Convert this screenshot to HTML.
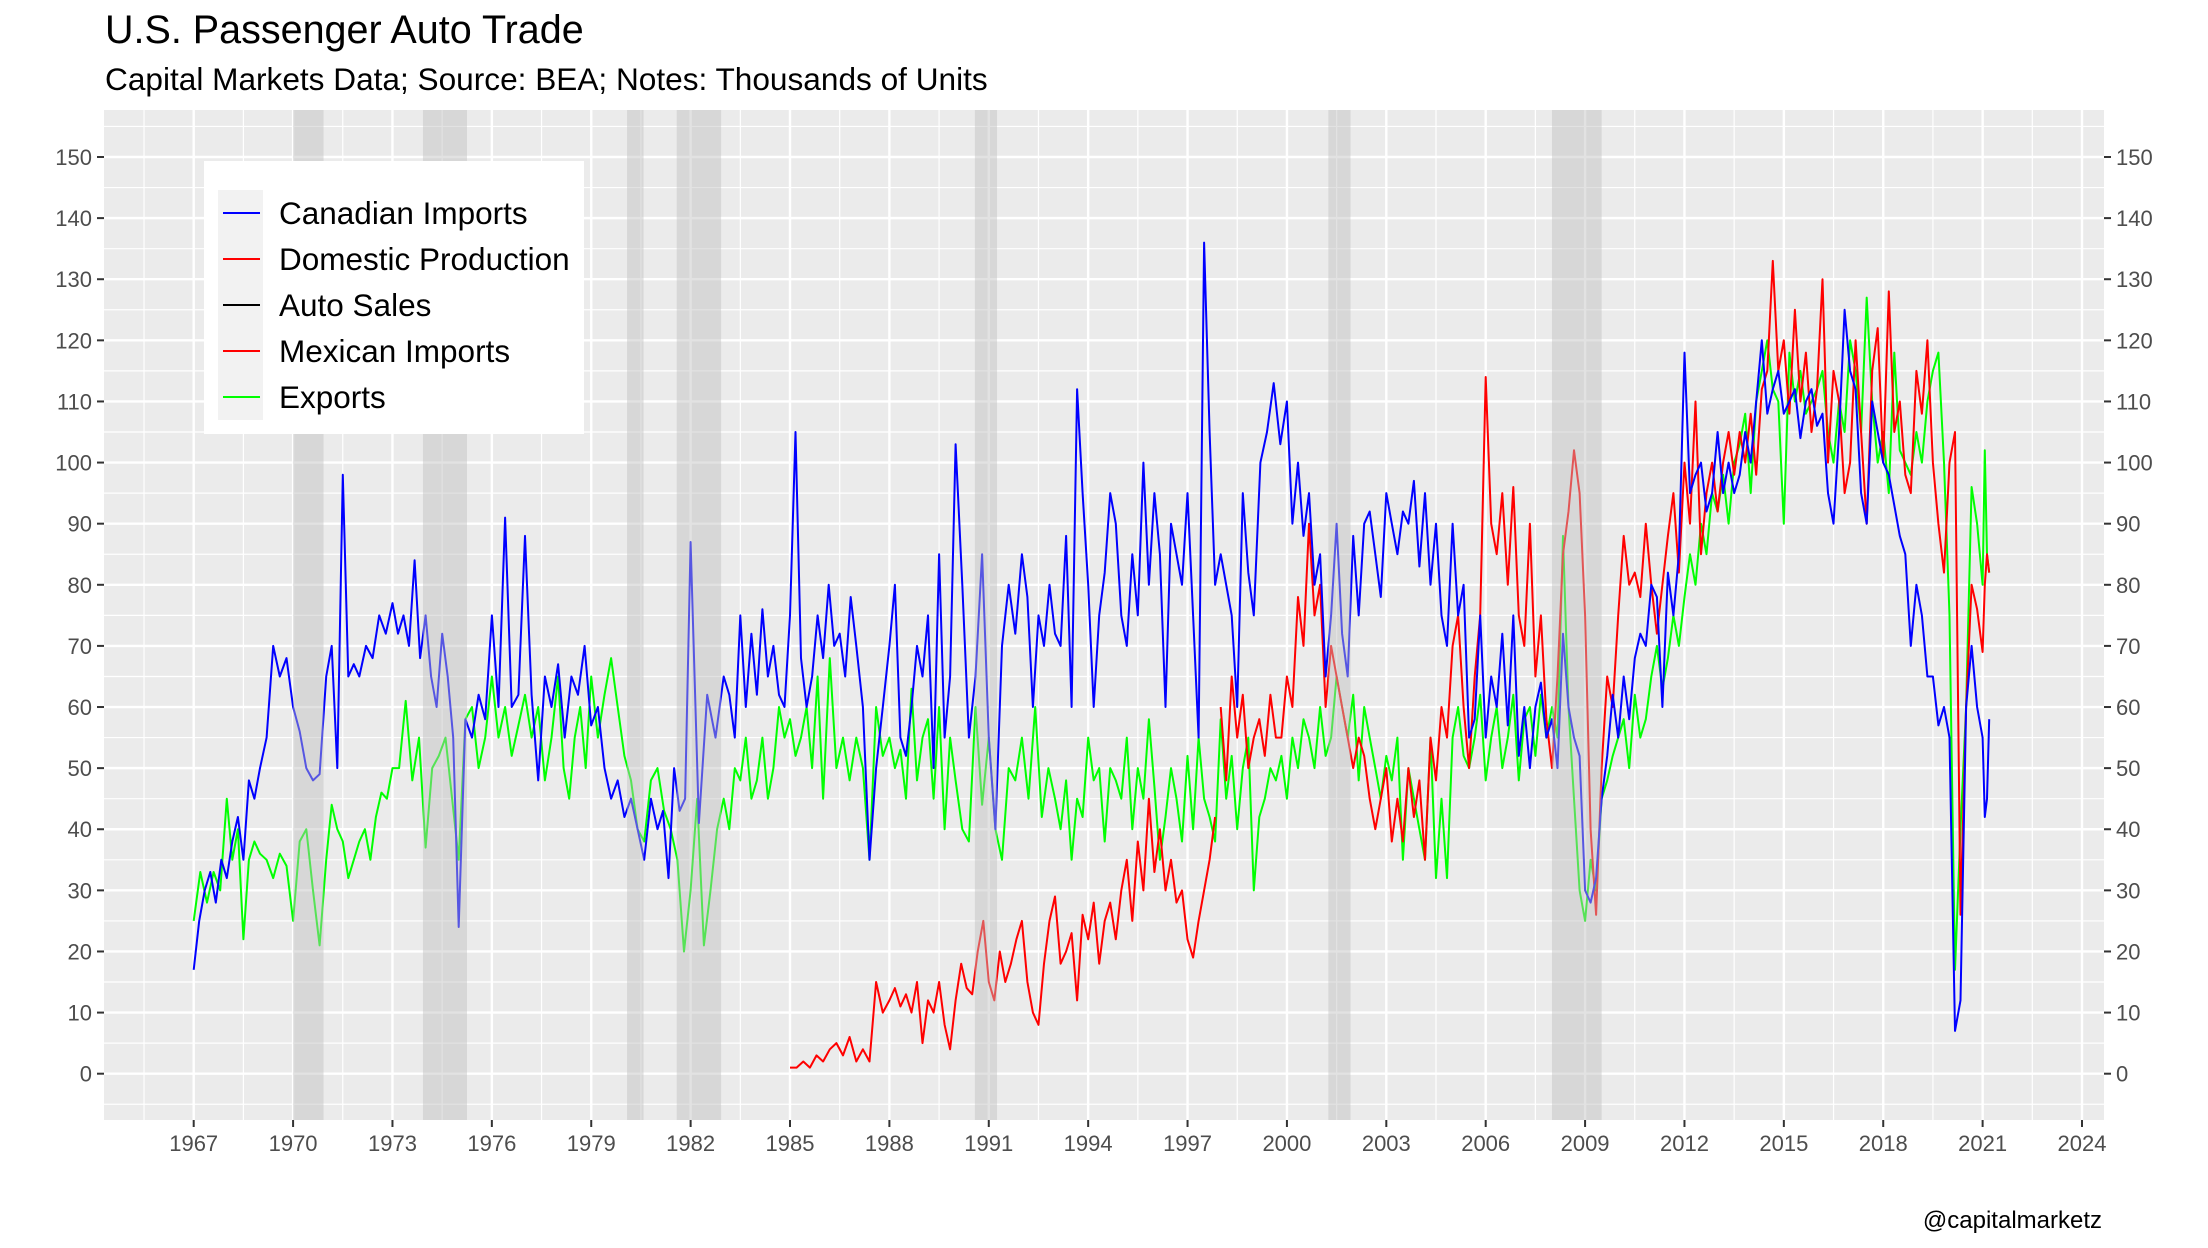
<!DOCTYPE html>
<html><head><meta charset="utf-8"><title>U.S. Passenger Auto Trade</title>
<style>
html,body{margin:0;padding:0;background:#fff;}
svg{display:block;font-family:"Liberation Sans",Arial,sans-serif;}
</style></head>
<body>
<svg id="chart" width="2208" height="1248" viewBox="0 0 2208 1248" xmlns="http://www.w3.org/2000/svg">
<rect width="2208" height="1248" fill="#fff"/>
<text x="105" y="43" font-size="39.5" fill="#000">U.S. Passenger Auto Trade</text>
<text x="105" y="90" font-size="31.6" fill="#000">Capital Markets Data; Source: BEA; Notes: Thousands of Units</text>
<g id="panel"></g>
<g id="lines"></g>
<g id="bands"></g>
<g id="axes"></g>
<g>
  <rect x="204" y="161" width="380" height="273" fill="#fff"/>
  <rect x="218" y="190" width="45" height="230" fill="#F2F2F2"/>
  <g><line x1="223" y1="213" x2="260" y2="213" stroke="#0000FF" stroke-width="2"/><text x="279" y="224" font-size="31.5">Canadian Imports</text></g>
  <g><line x1="223" y1="259" x2="260" y2="259" stroke="#FF0000" stroke-width="2"/><text x="279" y="270" font-size="31.5">Domestic Production</text></g>
  <g><line x1="223" y1="305" x2="260" y2="305" stroke="#000" stroke-width="2"/><text x="279" y="316" font-size="31.5">Auto Sales</text></g>
  <g><line x1="223" y1="351" x2="260" y2="351" stroke="#FF0000" stroke-width="2"/><text x="279" y="362" font-size="31.5">Mexican Imports</text></g>
  <g><line x1="223" y1="397" x2="260" y2="397" stroke="#00FF00" stroke-width="2"/><text x="279" y="408" font-size="31.5">Exports</text></g>
</g>
<text x="2102" y="1228" font-size="24" text-anchor="end" fill="#000">@capitalmarketz</text>
</svg>
<script>
const xTicks = [1967,1970,1973,1976,1979,1982,1985,1988,1991,1994,1997,2000,2003,2006,2009,2012,2015,2018,2021,2024];
const yTicks = [0,10,20,30,40,50,60,70,80,90,100,110,120,130,140,150];
const recessionStarts = [1970.0,1973.92,1980.08,1981.58,1990.58,2001.25,2008.0];
const recessionEnds = [1970.92,1975.25,1980.58,1982.92,1991.25,2001.92,2009.5];
const lastYearSpan = 0.2;

const canadianStart = 1967;
const canadian = [
[17,25,30,33,28,35],[32,38,42,35,48,45],[50,55,70,65,68],[60,56,50,48,49],[65,70,50,98,65,67],
[65,70,68,75,72],[77,72,75,70,84,68],[75,65,60,72,65,55],[24,58,55,62,58],[75,60,91,60,62],
[88,62,48,65,60],[67,55,65,62,70],[57,60,50,45,48],[42,45,40,35,45],[40,43,32,50,43,45],
[87,41,62,55],[65,62,55,75,60,72],[62,76,65,70,62,60],[75,105,68,60,65,75],[68,80,70,72,65,78],
[70,60,35,50,60],[70,80,55,52,60,70],[65,75,50,85,55,65],[103,80,55,65,85],[55,40,70,80,72],
[85,78,60,75,70,80],[72,70,88,60,112,95],[80,60,75,82,95,90],[75,70,85,75,100,80],[95,85,60,90,85,80],
[95,75,55,136,105,80],[85,80,75,60,95,82],[75,100,105,113,103],[110,90,100,88,95,80],[85,65,75,90,72,65],
[88,75,90,92,85,78],[95,90,85,92,90,97],[83,95,80,90,75,70],[90,75,80,55,58,75],[55,65,60,72,57,75],
[52,60,50,60,64,55],[58,50,72,60,55,52],[30,28,32,45,52,62],[55,65,58,68,72,70],[80,78,60,82,75,85],
[118,95,98,100,92,95],[105,95,100,95,98,105],[100,110,120,108,112,115],[108,110,112,104,110,112],[106,108,95,90,105,125],
[115,112,95,90,110,105],[100,98,93,88,85,70],[80,75,65,65,57,60],[55,7,12,60,70,60],[55,42,45,58]
];
const mexicanStart = 1985;
const mexican = [
[1,1,2,1,3],[2,4,5,3,6],[2,4,2,15,10],[12,14,11,13,10,15],[5,12,10,15,8,4],
[12,18,14,13,20,25],[15,12,20,15,18,22],[25,15,10,8,18,25],[29,18,20,23,12,26],[22,28,18,25,28,22],
[30,35,25,38,30,45],[33,40,30,35,28,30],[22,19,25,30,35,42]
];
const domesticStart = 1998;
const domestic = [
[60,48,65,55,62,50],[55,58,52,62,55,55],[65,60,78,70,90,75],[80,60,70,65,60,55],[50,55,52,45,40,45],
[50,38,45,38,50,42],[48,35,55,48,60,55],[70,75,60,50,65,75],[114,90,85,95,80,96],[75,70,90,65,75,58],
[50,65,85,92,102,95],[75,40,26,50,65,60],[75,88,80,82,78,90],[80,72,80,88,95,82],[100,90,110,85,95,100],
[92,100,105,98,105,100],[108,98,112,115,133,115],[120,108,125,110,118,105],[112,130,100,115,110,95],[100,120,105,90,115,122],
[100,128,105,110,98,95],[115,108,120,100,90,82],[100,105,26,60,80,76],[69,80,85,82]
];
const exportsStart = 1967;
const exportsData = [
[25,33,28,33,30],[45,35,40,22,35,38],[36,35,32,36,34],[25,38,40,30,21],[35,44,40,38,32,35],
[38,40,35,42,46,45],[50,50,61,48,55],[37,50,52,55,45],[35,58,60,50,55],[65,55,60,52,57],
[62,55,60,48,55],[65,50,45,55,60,50],[65,55,62,68,60],[52,48,40,38,48],[50,43,40,35,20],
[30,45,21,30,40],[45,40,50,48,55,45],[48,55,45,50,60,55],[58,52,55,60,50,65],[45,68,50,55,48],
[55,50,35,60,52],[55,50,53,45,63,48],[55,58,45,60,40,55],[48,40,38,60,44],[55,40,35,50,48],
[55,45,60,42,50],[45,40,48,35,45,42],[55,48,50,38,50,48],[45,55,40,50,45,58],[47,35,42,50,45,38],
[52,40,55,45,42,38],[58,45,52,40,50,55],[30,42,45,50,48,52],[45,55,50,58,55,50],[60,52,55,65,60,55],
[62,48,60,55,50,45],[52,48,55,35,50,45],[40,35,55,32,45,32],[55,60,52,50,55,62],[48,55,60,50,55,62],
[48,58,60,52,62,55],[60,55,88,60,45,30],[25,35,30,45,48,52],[55,58,50,62,55,58],[65,70,63,68,75,70],
[78,85,80,90,85,95],[92,98,90,100,103,108],[95,110,115,120,112,110],[90,118,110,115,108,110],[112,115,105,100,110,105],
[120,115,105,127,110,100],[105,95,118,102,100,98],[105,100,110,115,118,100],[75,17,40,60,96,90],[80,102,85,82]
];

const NS = "http://www.w3.org/2000/svg";
const PL = 104, PR = 2104, PT = 110, PB = 1120;
function xs(yr){ return 193.7 + (yr - 1967) * (2082 - 193.7) / 57; }
function ys(v){ return 1073.7 - v * (1073.7 - 157) / 150; }
function mk(tag, attrs, parent){ const e = document.createElementNS(NS, tag); for (const k in attrs) e.setAttribute(k, attrs[k]); parent.appendChild(e); return e; }

const panel = document.getElementById('panel');
const bg = mk('rect', {x:PL, y:PT, width:PR-PL, height:PB-PT, fill:'#EBEBEB'}, panel);


for (let v = -5; v <= 155; v += 10) {
  const l = mk('line', {x1:PL, x2:PR, y1:ys(v), y2:ys(v), stroke:'#fff', 'stroke-width':1.2}, panel);
  
  
}
for (let i = 0; i < xTicks.length; i++) {
  const yr = xTicks[i] - 1.5;
  if (xs(yr) > PL) {
    const l = mk('line', {x1:xs(yr), x2:xs(yr), y1:PT, y2:PB, stroke:'#fff', 'stroke-width':1.2}, panel);
    
    
  }
}
for (const v of yTicks) {
  const l = mk('line', {x1:PL, x2:PR, y1:ys(v), y2:ys(v), stroke:'#fff', 'stroke-width':2.4}, panel);
  
  
}
for (const t of xTicks) {
  const l = mk('line', {x1:xs(t), x2:xs(t), y1:PT, y2:PB, stroke:'#fff', 'stroke-width':2.4}, panel);
  
  
}

const linesG = document.getElementById('lines');
function drawSeries(start, data, color, name){
  const pts = [];
  for (let i = 0; i < data.length; i++) {
    const yr = start + i, arr = data[i], n = arr.length;
    const isLast = (yr === 2021);
    for (let j = 0; j < n; j++) {
      const t = isLast ? yr + (n > 1 ? j * lastYearSpan / (n - 1) : 0) : yr + j / n;
      pts.push(xs(t).toFixed(1) + ',' + ys(arr[j]).toFixed(1));
    }
  }
  const p = mk('polyline', {points: pts.join(' '), fill:'none', stroke:color, 'stroke-width':2, 'stroke-linejoin':'round'}, linesG);
  
  
}
drawSeries(exportsStart, exportsData, '#00FF00', 'exports-line');
drawSeries(mexicanStart, mexican, '#FF0000', 'mexican-imports-line');
drawSeries(domesticStart, domestic, '#FF0000', 'domestic-production-line');
drawSeries(canadianStart, canadian, '#0000FF', 'canadian-imports-line');

const bandsG = document.getElementById('bands');
for (let i = 0; i < recessionStarts.length; i++) {
  const r = mk('rect', {x:xs(recessionStarts[i]), y:PT, width:xs(recessionEnds[i]) - xs(recessionStarts[i]), height:PB-PT, fill:'rgb(190,190,190)', 'fill-opacity':0.45}, bandsG);
  
  
}

const axes = document.getElementById('axes');
for (const v of yTicks) {
  const y = ys(v);
  const t1 = mk('line', {x1:PL-7, x2:PL, y1:y, y2:y, stroke:'#333', 'stroke-width':2}, axes);
  
  
  const t2 = mk('line', {x1:PR, x2:PR+7, y1:y, y2:y, stroke:'#333', 'stroke-width':2}, axes);
  
  
  const a = mk('text', {x:PL-12, y:y+8, 'font-size':22, 'text-anchor':'end', fill:'#4D4D4D'}, axes);
  a.textContent = v;
  
  
  const b = mk('text', {x:PR+12, y:y+8, 'font-size':22, 'text-anchor':'start', fill:'#4D4D4D'}, axes);
  b.textContent = v;
  
  
}
for (const t of xTicks) {
  const x = xs(t);
  const tk = mk('line', {x1:x, x2:x, y1:PB, y2:PB+7, stroke:'#333', 'stroke-width':2}, axes);
  
  
  const lb = mk('text', {x:x, y:1151, 'font-size':22, 'text-anchor':'middle', fill:'#4D4D4D'}, axes);
  lb.textContent = t;
  
  
}
</script>
</body></html>
